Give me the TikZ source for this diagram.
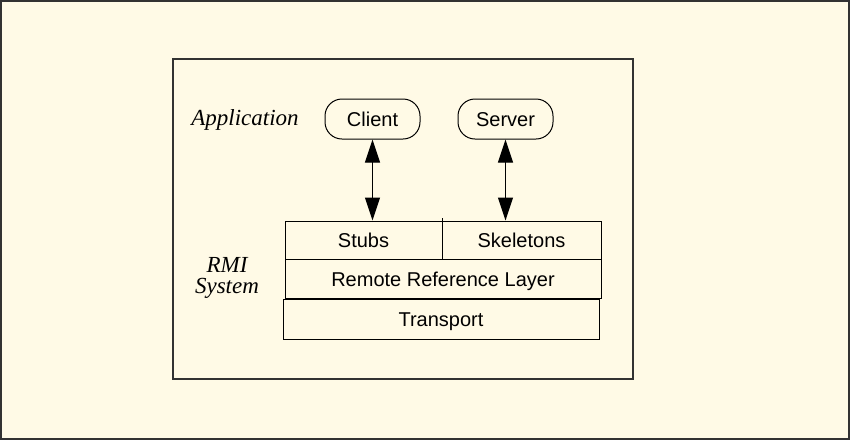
\documentclass[tikz,border=0pt]{standalone}
\usepackage{fontspec}
\setmainfont{Liberation Serif}
\setsansfont{Liberation Sans}
\usetikzlibrary{arrows.meta}
\definecolor{bgcream}{RGB}{255,250,230}
\definecolor{frameline}{RGB}{50,50,50}
\begin{document}
\begin{tikzpicture}[x=1pt,y=-1pt,
  layer/.style={draw=black,line width=1pt,rectangle,inner sep=0pt,text height=15pt,text depth=0pt,font=\sffamily\fontsize{20}{22}\selectfont},
  pill/.style={draw=black,line width=1pt,rectangle,rounded corners=17pt,inner sep=0pt,text height=15pt,text depth=0pt,minimum width=95pt,minimum height=40pt,font=\sffamily\fontsize{20}{22}\selectfont},
  lbl/.style={font=\rmfamily\itshape\fontsize{23}{21}\selectfont,align=center,inner sep=0pt},
  dblarrow/.style={line width=1pt,{Triangle[length=23pt,width=15pt]}-{Triangle[length=23pt,width=15pt]}}
]
\useasboundingbox (0,0) rectangle (850,440);
\fill[bgcream] (0,0) rectangle (850,440);
\draw[frameline,line width=2pt] (1,1) rectangle (849,439);
\draw[frameline,line width=1.5pt] (173,59) rectangle (633,379);

\node[lbl] (app) at (245,120) {Application};
\node[lbl] (rmi) at (227,278) {RMI\\System};

\node[pill] (client) at (372.5,119) {Client};
\node[pill] (server) at (505.5,119) {Server};

\node[layer,minimum width=157pt,minimum height=38pt] (stubs) at (363.5,240) {Stubs};
\node[layer,minimum width=159pt,minimum height=38pt] (skel) at (521.5,240) {Skeletons};
\node[layer,minimum width=316pt,minimum height=39pt] (rrl) at (443,278.5) {Remote Reference Layer};
\node[layer,minimum width=316pt,minimum height=40pt] (transport) at (441,319) {Transport};

\draw[line width=1pt] (stubs.north east) -- ++(0,-3);

\draw[dblarrow] (client.south) -- (client.south |- stubs.north);
\draw[dblarrow] (server.south) -- (server.south |- skel.north);
\end{tikzpicture}
\end{document}
